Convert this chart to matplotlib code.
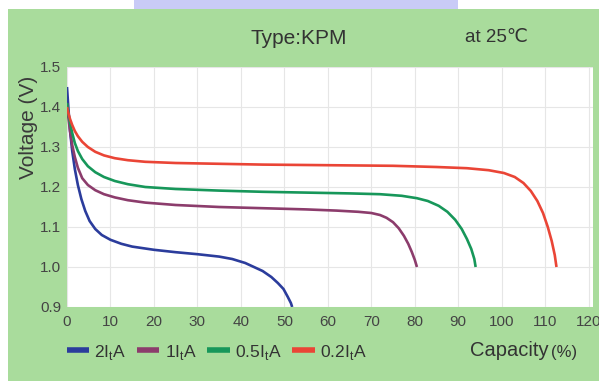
import matplotlib
matplotlib.use("Agg")
import matplotlib.pyplot as plt
from matplotlib.patches import Rectangle

plt.rcParams['font.family'] = ['Liberation Sans Narrow', 'Liberation Sans', 'DejaVu Sans']

# discharge curves (capacity %, voltage V)
x_2c = [0, 0.3, 0.7, 1.2, 1.8, 2.5, 3.3, 4.2, 5.2, 6.5, 8, 10, 12.5, 15, 20, 25, 30, 35, 38,
        41, 43, 45, 47, 48.5, 49.8, 50.8, 51.5, 51.8]
v_2c = [1.45, 1.40, 1.34, 1.29, 1.245, 1.205, 1.17, 1.14, 1.115, 1.095, 1.08, 1.068, 1.058,
        1.051, 1.043, 1.037, 1.032, 1.026, 1.02, 1.01, 1.0, 0.99, 0.975, 0.96, 0.945, 0.925,
        0.91, 0.9]

x_1c = [0, 0.3, 0.7, 1.2, 1.8, 2.5, 3.5, 4.8, 6.5, 8.5, 11, 14, 18, 25, 35, 45, 55, 62, 67,
        70, 72, 73.5, 75, 76.3, 77.5, 78.5, 79.3, 80, 80.5]
v_1c = [1.41, 1.375, 1.34, 1.305, 1.275, 1.248, 1.222, 1.205, 1.192, 1.182, 1.174, 1.167,
        1.161, 1.155, 1.15, 1.147, 1.144, 1.141, 1.138, 1.135, 1.13, 1.123, 1.112, 1.097,
        1.078, 1.058, 1.038, 1.018, 1.0]

x_05c = [0, 0.3, 0.7, 1.2, 1.8, 2.5, 3.5, 4.8, 6.5, 8.5, 11, 14, 18, 25, 35, 45, 55, 65, 72,
         77, 80.5, 83, 85.5, 87.5, 89.3, 90.8, 92, 93, 93.7, 94]
v_05c = [1.41, 1.385, 1.36, 1.335, 1.31, 1.29, 1.27, 1.252, 1.237, 1.225, 1.215, 1.207, 1.2,
         1.195, 1.191, 1.188, 1.186, 1.184, 1.182, 1.178, 1.172, 1.165, 1.153, 1.138, 1.118,
         1.095, 1.07, 1.045, 1.02, 1.0]

x_02c = [0, 0.3, 0.7, 1.2, 1.8, 2.5, 3.5, 4.8, 6.5, 8.5, 11, 14, 18, 25, 35, 45, 55, 65, 75,
         85, 92, 97, 100.5, 103, 105, 106.7, 108.2, 109.5, 110.6, 111.5, 112.2, 112.6]
v_02c = [1.40, 1.385, 1.37, 1.355, 1.34, 1.327, 1.313, 1.3, 1.288, 1.279, 1.272, 1.267, 1.263,
         1.26, 1.258, 1.256, 1.255, 1.254, 1.253, 1.25, 1.247, 1.242, 1.235, 1.225, 1.21,
         1.19, 1.165, 1.135, 1.1, 1.065, 1.03, 1.0]

labels = ['2I$_\\mathregular{t}$A', '1I$_\\mathregular{t}$A',
          '0.5I$_\\mathregular{t}$A', '0.2I$_\\mathregular{t}$A']
colors = ['#2b3c9c', '#8c3c6c', '#17975a', '#ea4536']

xticks = list(range(0, 121, 10))
yticks = [0.9, 1.0, 1.1, 1.2, 1.3, 1.4, 1.5]

fig = plt.figure(figsize=(5.99, 3.81), dpi=100)
fig.patch.set_facecolor('white')
# green card and the lavender tab above it
fig.patches.append(Rectangle((8 / 599, 0), 1, 1 - 9 / 381, transform=fig.transFigure,
                             facecolor='#a9dc9c', edgecolor='none', zorder=-10))
fig.patches.append(Rectangle((134 / 599, 1 - 9 / 381), 324 / 599, 9 / 381,
                             transform=fig.transFigure, facecolor='#c9cbf7',
                             edgecolor='none', zorder=-10))

ax = fig.add_axes([67 / 599, 1 - 307 / 381, 526 / 599, 240 / 381])
ax.set_zorder(1)
ax.set_facecolor('white')
for xs, vs, c, lab in zip([x_2c, x_1c, x_05c, x_02c], [v_2c, v_1c, v_05c, v_02c], colors, labels):
    ax.plot(xs, vs, color=c, lw=1.9, label=lab, solid_capstyle='butt', solid_joinstyle='round')

ax.set_xlim(0, 121)
ax.set_ylim(0.9, 1.5)
ax.set_xticks(xticks)
ax.set_yticks(yticks)
ax.set_yticklabels(['0.9', '1.0', '1.1', '1.2', '1.3', '1.4', '1.5'])
ax.grid(True, color='#e6e6e6', lw=0.8)
ax.set_axisbelow(True)
ax.tick_params(length=0, labelsize=11, labelcolor='#444444')
ax.tick_params(axis='x', pad=6)
ax.tick_params(axis='y', pad=4)
for sp in ax.spines.values():
    sp.set_visible(False)

fig.text(28 / 599, 1 - 127 / 381, 'Voltage (V)', rotation=90, ha='center', va='center',
         fontsize=15, color='#3a3a3a')
fig.text(299 / 599, 1 - 38 / 381, 'Type:KPM', ha='center', va='center', fontsize=15,
         color='#333333')
fig.text(496 / 599, 1 - 38 / 381, 'at 25℃', ha='center', va='center', fontsize=13.5,
         color='#333333')
fig.text(470 / 599, 1 - 351 / 381, 'Capacity', ha='left', va='center', fontsize=14.5,
         color='#333333')
fig.text(551 / 599, 1 - 352 / 381, '(%)', ha='left', va='center', fontsize=12,
         color='#333333')

leg = fig.legend(loc='center left', bbox_to_anchor=(51 / 599, 1 - 352 / 381), ncol=4,
                 frameon=False, handlelength=1.3, handletextpad=0.3, columnspacing=0.6,
                 fontsize=12.5, labelcolor='#333333')
for h in leg.legend_handles:
    h.set_linewidth(4)

fig.savefig('out.png', dpi=100)
